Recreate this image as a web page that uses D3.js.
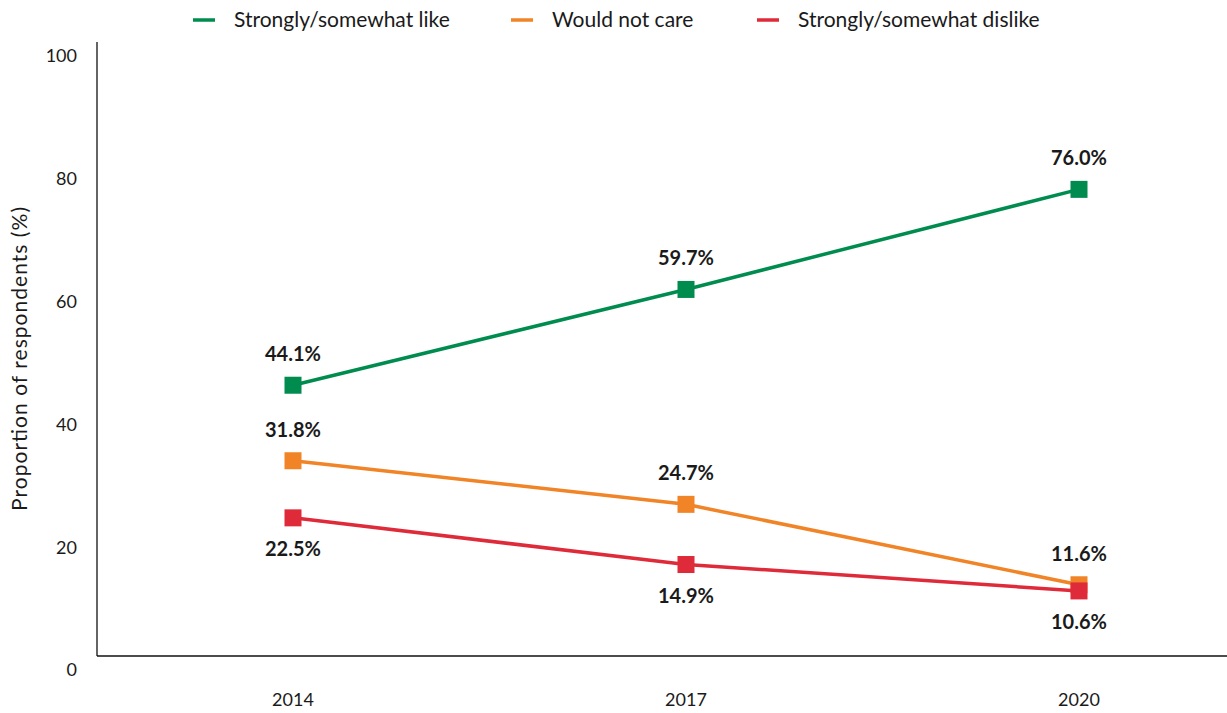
<!DOCTYPE html>
<html>
<head>
<meta charset="utf-8">
<script src="https://cdn.jsdelivr.net/npm/d3@7"></script>
<style>
  body { margin: 0; background: #fff; }
  text { font-family: Lato, "Open Sans", sans-serif; fill: #1a1a1a; }
</style>
</head>
<body>
<div id="chart"></div>
<script>
var years = ["2014", "2017", "2020"];
var seriesNames = ["Strongly/somewhat like", "Would not care", "Strongly/somewhat dislike"];
var likeValues = [44.1, 59.7, 76.0];
var notCareValues = [31.8, 24.7, 11.6];
var dislikeValues = [22.5, 14.9, 10.6];
var seriesColors = ["#008c4f", "#f08427", "#df2a3a"];
var yTicks = [0, 20, 40, 60, 80, 100];

var width = 1227, height = 713;
var svg = d3.select("#chart").append("svg")
  .attr("width", width).attr("height", height);

var x = d3.scalePoint().domain(years).range([293, 1079]);
var y = d3.scaleLinear().domain([0, 100]).range([656, 42]);

// axes lines
svg.append("line").attr("x1", 97).attr("x2", 97).attr("y1", 42).attr("y2", 656)
  .attr("stroke", "#111").attr("stroke-width", 1.3);
svg.append("line").attr("x1", 97).attr("x2", 1227).attr("y1", 656).attr("y2", 656)
  .attr("stroke", "#111").attr("stroke-width", 1.3);

// y tick labels sit a bit below their tick value
svg.selectAll(".ytick").data(yTicks).enter().append("text")
  .attr("class", "ytick")
  .attr("x", 77)
  .attr("y", function(d) { return y(d) + 14; })
  .attr("dy", "0.35em")
  .attr("text-anchor", "end")
  .attr("font-size", 18)
  .text(function(d) { return d; });

svg.selectAll(".xtick").data(years).enter().append("text")
  .attr("class", "xtick")
  .attr("x", function(d) { return x(d); })
  .attr("y", 700)
  .attr("dy", "0.35em")
  .attr("text-anchor", "middle")
  .attr("font-size", 18)
  .text(function(d) { return d; });

svg.append("text")
  .attr("transform", "translate(20,359) rotate(-90)")
  .attr("text-anchor", "middle")
  .attr("dy", "0.35em")
  .attr("font-size", 21)
  .attr("textLength", 304)
  .attr("lengthAdjust", "spacing")
  .text("Proportion of respondents (%)");

// series
var series = [
  { name: seriesNames[0], values: likeValues, color: seriesColors[0], above: true },
  { name: seriesNames[1], values: notCareValues, color: seriesColors[1], above: true },
  { name: seriesNames[2], values: dislikeValues, color: seriesColors[2], above: false }
];

var line = d3.line()
  .x(function(d, i) { return x(years[i]); })
  .y(function(d) { return y(d); });

series.forEach(function(s) {
  var g = svg.append("g");
  g.append("path").datum(s.values)
    .attr("d", line)
    .attr("fill", "none")
    .attr("stroke", s.color)
    .attr("stroke-width", 3.5);
  g.selectAll("rect").data(s.values).enter().append("rect")
    .attr("x", function(d, i) { return x(years[i]) - 8.5; })
    .attr("y", function(d) { return y(d) - 8.5; })
    .attr("width", 17).attr("height", 17)
    .attr("fill", s.color);
});

series.forEach(function(s) {
  svg.selectAll(null).data(s.values).enter().append("text")
    .attr("x", function(d, i) { return x(years[i]); })
    .attr("y", function(d) { return y(d) + (s.above ? -31 : 31); })
    .attr("dy", "0.35em")
    .attr("text-anchor", "middle")
    .attr("font-size", 20)
    .attr("font-weight", "bold")
    .text(function(d) { return d.toFixed(1) + "%"; });
});

// legend
var legendX = [193, 511, 757];
var legend = svg.selectAll(".legend").data(series).enter().append("g")
  .attr("class", "legend")
  .attr("transform", function(d, i) { return "translate(" + legendX[i] + ",20)"; });
legend.append("line")
  .attr("x1", 0).attr("x2", 22).attr("y1", 0).attr("y2", 0)
  .attr("stroke", function(d) { return d.color; })
  .attr("stroke-width", 3.5);
legend.append("text")
  .attr("x", 41)
  .attr("y", 0)
  .attr("dy", "0.35em")
  .attr("font-size", 21)
  .text(function(d) { return d.name; });
</script>
</body>
</html>
